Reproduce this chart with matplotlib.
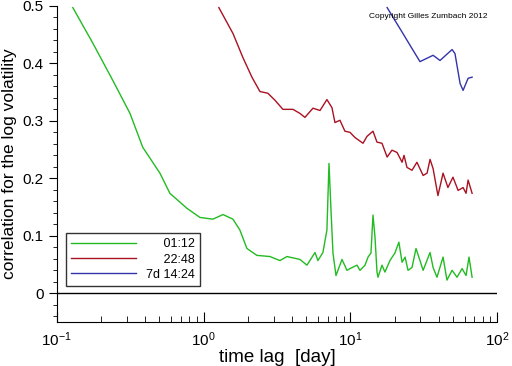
import numpy as np
import matplotlib
matplotlib.use("Agg")
import matplotlib.pyplot as plt
from matplotlib.ticker import MultipleLocator, LogLocator, NullFormatter

plt.rcParams['font.family'] = ['Liberation Sans', 'DejaVu Sans']
plt.rcParams['mathtext.default'] = 'regular'

# lag in days, correlation values
lag_1 = [0.1285, 0.176, 0.241, 0.315, 0.385, 0.504, 0.589, 0.769, 0.944, 1.157,
         1.355, 1.585, 1.767, 1.973, 2.308, 2.831, 3.311, 3.698, 4.53, 5.06,
         5.74, 6.01, 6.50, 6.92, 7.15, 7.38, 7.61, 7.98, 8.77, 9.48,
         9.94, 11.09, 11.62, 12.58, 13.19, 13.81, 14.26, 14.72, 15.18, 15.42,
         16.42, 17.2, 18.6, 20.1, 21.4, 22.5, 23.6, 24.7, 26.3, 28.0,
         29.8, 31.3, 34.9, 36.6, 38.9, 42.8, 45.5, 49.3, 53.3, 57.7,
         61.4, 64.3, 67.5]
corr_1 = [0.497, 0.435, 0.370, 0.313, 0.254, 0.209, 0.174, 0.148, 0.132, 0.129,
          0.137, 0.129, 0.110, 0.078, 0.066, 0.064, 0.057, 0.064, 0.059, 0.049,
          0.071, 0.057, 0.071, 0.110, 0.226, 0.144, 0.070, 0.031, 0.059, 0.040,
          0.043, 0.049, 0.040, 0.049, 0.063, 0.070, 0.136, 0.097, 0.037, 0.028,
          0.049, 0.037, 0.057, 0.070, 0.089, 0.054, 0.063, 0.040, 0.045, 0.078,
          0.057, 0.040, 0.071, 0.045, 0.028, 0.063, 0.023, 0.040, 0.028, 0.043,
          0.031, 0.063, 0.028]

lag_2 = [1.27, 1.585, 1.853, 2.134, 2.42, 2.74, 3.06, 3.47, 4.06, 4.53,
         4.90, 5.56, 6.21, 6.92, 7.49, 7.85, 8.49, 9.18, 9.94, 10.75,
         12.19, 12.98, 14.26, 15.18, 16.42, 17.8, 19.2, 20.8, 22.5, 23.2,
         24.3, 26.3, 28.4, 31.3, 33.3, 34.9, 36.6, 39.5, 42.8, 46.2,
         50.0, 54.2, 58.6, 61.4, 63.4, 67.5]
corr_2 = [0.497, 0.452, 0.410, 0.376, 0.351, 0.348, 0.336, 0.320, 0.320, 0.313,
          0.306, 0.322, 0.318, 0.337, 0.323, 0.297, 0.301, 0.282, 0.280, 0.271,
          0.261, 0.273, 0.282, 0.263, 0.261, 0.237, 0.249, 0.245, 0.228, 0.240,
          0.219, 0.214, 0.228, 0.205, 0.209, 0.233, 0.217, 0.170, 0.209, 0.184,
          0.202, 0.179, 0.184, 0.174, 0.197, 0.174]

lag_3 = [17.8, 22.8, 26.7, 29.8, 36.6, 40.8, 49.3, 51.6, 55.9, 58.6, 63.4, 67.5]
corr_3 = [0.497, 0.452, 0.423, 0.403, 0.414, 0.405, 0.424, 0.417, 0.365, 0.353,
          0.374, 0.376]

labels = ["     01:12", "     22:48", "7d 14:24"]
colors = ["#22bb22", "#aa1122", "#3333aa"]

fig = plt.figure(figsize=(5.12, 3.66), dpi=100)
ax = fig.add_axes([0.111, 0.120, 0.860, 0.864])

ax.plot(lag_1, corr_1, color=colors[0], lw=1, label=labels[0])
ax.plot(lag_2, corr_2, color=colors[1], lw=1, label=labels[1])
ax.plot(lag_3, corr_3, color=colors[2], lw=1, label=labels[2])
ax.axhline(0, color='black', lw=1)

ax.set_xscale('log')
ax.set_xlim(0.1, 100)
ax.set_ylim(-0.05, 0.5)

ax.spines['top'].set_visible(False)
ax.spines['right'].set_visible(False)

ax.set_yticks([0, 0.1, 0.2, 0.3, 0.4, 0.5])
ax.set_yticklabels(['0', '0.1', '0.2', '0.3', '0.4', '0.5'])
ax.yaxis.set_minor_locator(MultipleLocator(0.02))
ax.xaxis.set_minor_locator(LogLocator(base=10, subs=np.arange(2, 10)))
ax.xaxis.set_minor_formatter(NullFormatter())

ax.tick_params(axis='x', which='major', direction='in', length=7, labelsize=11, pad=6)
ax.tick_params(axis='x', which='minor', direction='in', length=4)
ax.tick_params(axis='y', which='major', direction='out', length=6, labelsize=11)
ax.tick_params(axis='y', which='minor', direction='out', length=3)

ax.set_xlabel('time lag  [day]', fontsize=13.5, labelpad=0)
ax.set_ylabel('correlation for the log volatility', fontsize=12.5)
ax.yaxis.set_label_coords(-0.09, 0.5)

leg = ax.legend(loc='lower left', bbox_to_anchor=(0.02, 0.115), fontsize=9,
                handlelength=5.2, frameon=True, fancybox=False, borderpad=0.4,
                labelspacing=0.25, borderaxespad=0)
leg.get_frame().set_edgecolor('black')
leg.get_frame().set_linewidth(1)

fig.text(369 / 512, 1 - 16 / 366, 'Copyright Gilles Zumbach 2012', fontsize=6,
         va='center', ha='left')

fig.savefig('out.png', dpi=100)
